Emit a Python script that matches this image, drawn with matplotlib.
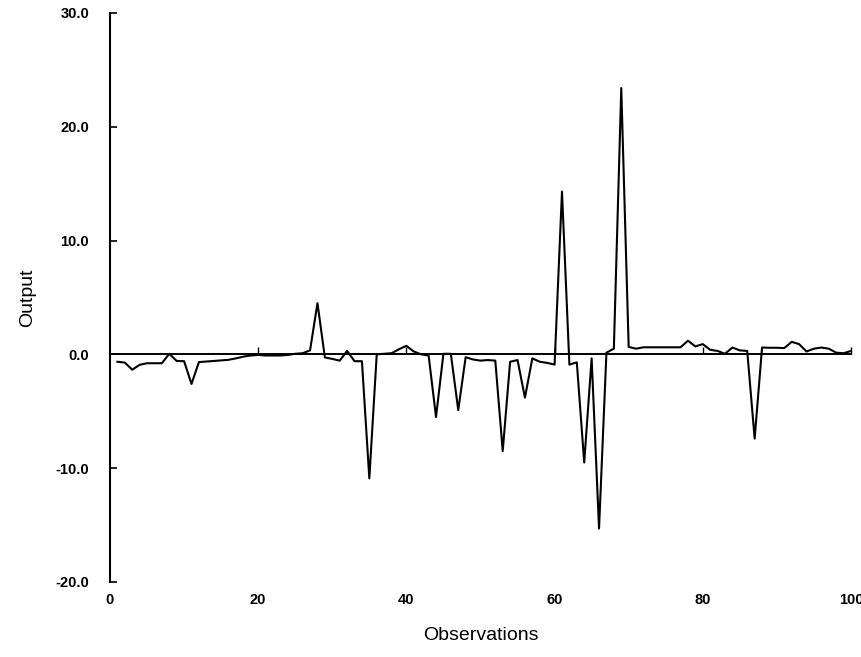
import matplotlib
matplotlib.use("Agg")
import matplotlib.pyplot as plt

# ---- data ----
observations = list(range(1, 101))
output = [
    -0.65, -0.72, -1.35, -0.92, -0.78, -0.78, -0.78, 0.05, -0.58, -0.60,
    -2.60, -0.68, -0.63, -0.58, -0.53, -0.48, -0.35, -0.20, -0.10, -0.05,
    -0.10, -0.10, -0.10, -0.05, 0.05, 0.10, 0.35, 4.50, -0.27, -0.40,
    -0.55, 0.30, -0.60, -0.60, -10.90, 0.00, 0.05, 0.10, 0.45, 0.75,
    0.25, 0.00, -0.10, -5.50, 0.05, 0.05, -4.90, -0.25, -0.45, -0.55,
    -0.50, -0.55, -8.50, -0.65, -0.50, -3.80, -0.35, -0.65, -0.75, -0.90,
    14.30, -0.90, -0.70, -9.50, -0.35, -15.30, 0.15, 0.50, 23.40, 0.65,
    0.50, 0.62, 0.62, 0.62, 0.62, 0.62, 0.62, 1.20, 0.70, 0.90,
    0.40, 0.30, 0.05, 0.60, 0.35, 0.30, -7.40, 0.60, 0.58, 0.58,
    0.55, 1.10, 0.90, 0.25, 0.50, 0.60, 0.50, 0.15, 0.10, 0.30,
]
x_ticks = [0, 20, 40, 60, 80, 100]
y_ticks = [-20, -10, 0, 10, 20, 30]
y_tick_labels = ["-20.0", "-10.0", "0.0", "10.0", "20.0", "30.0"]
x_label = "Observations"
y_label = "Output"

plt.rcParams["font.family"] = ["Liberation Sans", "DejaVu Sans"]

fig = plt.figure(figsize=(8.62, 6.57), dpi=100)
ax = fig.add_axes([0.1276, 0.1142, 0.8596, 0.8661])

ax.plot(observations, output, color="black", linewidth=1.5)

ax.set_xlim(0, 100)
ax.set_ylim(-20, 30)

# spines
for s in ("top", "right", "bottom"):
    ax.spines[s].set_visible(False)
ax.spines["left"].set_linewidth(1.5)

# y axis
ax.set_yticks(y_ticks, labels=y_tick_labels)
ax.tick_params(axis="y", direction="in", length=5, width=1.2, pad=15,
               labelsize=10.5)
for t in ax.get_yticklabels():
    t.set_fontweight("bold")

# x axis labels at the bottom (no ticks)
ax.set_xticks(x_ticks, labels=[str(v) for v in x_ticks])
ax.tick_params(axis="x", length=0, pad=8, labelsize=10.5)
for t in ax.get_xticklabels():
    t.set_fontweight("bold")

# zero line acting as x axis, with small upward ticks
sec = ax.secondary_xaxis(0.4)
sec.spines["bottom"].set_linewidth(1.4)
sec.set_xticks(x_ticks[1:])
sec.tick_params(axis="x", direction="in", length=5, width=1.0,
                labelbottom=False, labeltop=False)

ax.set_xlabel(x_label, fontsize=14, labelpad=14)
ax.set_ylabel(y_label, fontsize=14, labelpad=14)

fig.savefig("out.png", dpi=100)
